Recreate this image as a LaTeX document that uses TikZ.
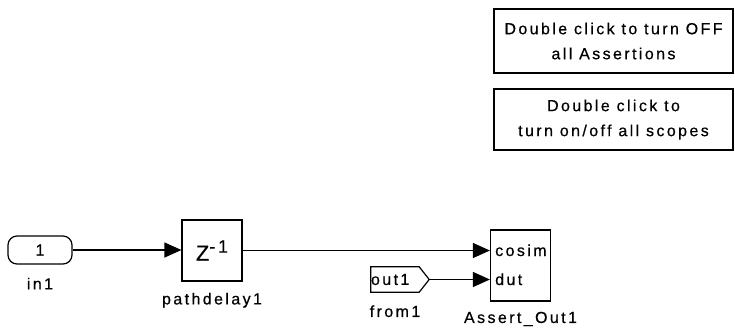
\documentclass[tikz,border=0pt]{standalone}
\usepackage{fontspec}
\newfontfamily\slfont[LetterSpace=15,FakeBold=0.5]{Liberation Sans}
\usetikzlibrary{arrows.meta,positioning}

\begin{document}
\begin{tikzpicture}[
    x=1pt, y=-1pt,
    every node/.style={font=\slfont\fontsize{16}{25}\selectfont},
    blk/.style={draw,line width=1.2pt,inner sep=0pt},
    port/.style={blk,rounded corners=9pt,minimum width=64pt,minimum height=28pt},
    note/.style={blk,align=center,minimum width=239pt},
    lbl/.style={inner sep=0pt},
    sig/.style={line width=1.2pt,-{Triangle[length=17pt,width=15pt]}}
  ]
  \useasboundingbox (0,0) rectangle (735,327);

  % notes
  \node[note,minimum height=64pt] (offnote) at (613.5,41) {Double click to turn OFF\\all Assertions};
  \node[note,minimum height=61pt] (scopenote) at (613.5,119.5) {Double click to\\turn on/off all scopes};

  % blocks
  \node[port] (in1) at (40,250) {1};
  \node[lbl,below=13pt of in1] (in1lbl) {in1};

  \node[blk,minimum width=60pt,minimum height=61pt] (delay) at (212,250.5)
    {{\fontsize{22}{22}\selectfont Z}\raisebox{8pt}{\fontsize{18}{18}\selectfont -1}};
  \node[lbl,below=11pt of delay] (delaylbl) {pathdelay1};

  \node[lbl,minimum width=48pt,minimum height=25pt,text width=48pt,align=left] (from1) at (395,279.5) {out1};
  \coordinate (from1tip) at ([xshift=10pt]from1.east);
  \draw[line width=1.2pt] (from1.north west) -- (from1.north east) -- (from1tip)
    -- (from1.south east) -- (from1.south west) -- cycle;
  \node[lbl,below=13pt of from1] (from1lbl) {from1};

  \node[blk,minimum width=60pt,minimum height=71pt] (assert) at (520.5,265.5) {};
  \node[lbl,anchor=base west] (cosim) at (495,256) {cosim};
  \node[lbl,anchor=base west] (dut) at (495,285) {dut};
  \node[lbl,below=10pt of assert] (assertlbl) {Assert\_Out1};

  % signals
  \draw[sig] (in1.east) -- (delay.west |- in1.east);
  \draw[sig] (delay.east) -- (assert.west |- delay.east);
  \draw[sig] (from1tip) -- (assert.west |- from1tip);
\end{tikzpicture}
\end{document}
